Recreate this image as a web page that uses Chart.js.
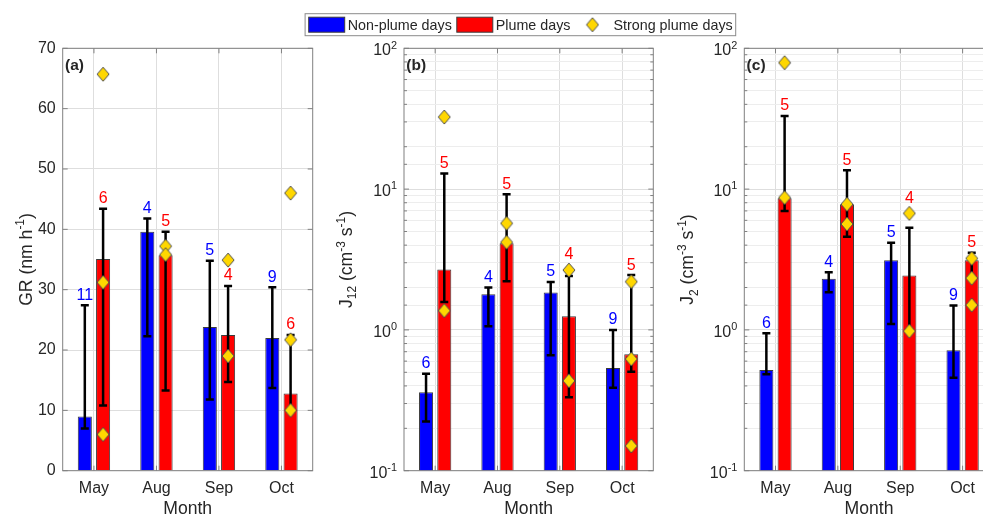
<!DOCTYPE html>
<html>
<head>
<meta charset="utf-8">
<title>GR, J12 and J2 by month</title>
<script src="https://cdn.jsdelivr.net/npm/chart.js@4.4.1/dist/chart.umd.min.js"></script>
<style>
  html, body { margin: 0; padding: 0; overflow: hidden; background: #fff; }
  body { position: relative; width: 983px; height: 517px; }
  canvas { position: absolute; top: 0; }
</style>
</head>
<body>
<canvas id="panelA"></canvas>
<canvas id="panelB"></canvas>
<canvas id="panelC"></canvas>
<script>
const months = ['May', 'Aug', 'Sep', 'Oct'];
const seriesNames = ['Non-plume days', 'Plume days', 'Strong plume days'];

// (a) GR, nm h-1
const grNonPlume   = [9.0, 39.6, 23.8, 22.0];
const grNonPlumeLo = [7.0, 22.3, 11.8, 13.7];
const grNonPlumeHi = [27.4, 41.8, 34.8, 30.4];
const grPlume      = [35.1, 35.7, 22.5, 12.8];
const grPlumeLo    = [10.8, 13.3, 14.7, 9.8];
const grPlumeHi    = [43.4, 39.6, 30.6, 22.5];
const grStrong     = [[65.7, 31.2, 6.0], [37.2, 35.8], [34.9, 19.0], [46.0, 21.7, 10.0]];
const grCountNon   = [11, 4, 5, 9];
const grCountPlume = [6, 5, 4, 6];
const grTicks      = [0, 10, 20, 30, 40, 50, 60, 70];

// (b) J12, cm-3 s-1
const j12NonPlume   = [0.36, 1.79, 1.84, 0.536];
const j12NonPlumeLo = [0.224, 1.06, 0.66, 0.388];
const j12NonPlumeHi = [0.489, 2.0, 2.19, 1.0];
const j12Plume      = [2.69, 4.12, 1.25, 0.671];
const j12PlumeLo    = [1.58, 2.22, 0.332, 0.505];
const j12PlumeHi    = [12.9, 9.19, 2.41, 2.45];
const j12Strong     = [[32.5, 1.37], [5.71, 4.19], [2.66, 0.435], [2.20, 0.621, 0.150]];
const j12CountNon   = [6, 4, 5, 9];
const j12CountPlume = [5, 5, 4, 5];

// (c) J2, cm-3 s-1
const j2NonPlume   = [0.519, 2.31, 3.12, 0.716];
const j2NonPlumeLo = [0.484, 1.85, 1.10, 0.458];
const j2NonPlumeHi = [0.946, 2.57, 4.16, 1.49];
const j2Plume      = [8.6, 7.8, 2.43, 3.13];
const j2PlumeLo    = [6.99, 4.59, 1.0, 2.35];
const j2PlumeHi    = [33.0, 13.6, 5.32, 3.53];
const j2Strong     = [[79, 8.69], [7.8, 5.65], [6.73, 0.98], [3.22, 2.33, 1.50]];
const j2CountNon   = [6, 4, 5, 9];
const j2CountPlume = [5, 5, 4, 5];

// log axis labels
const logDecades   = [0.1, 1, 10, 100];
const logExponents = ['-1', '0', '1', '2'];

const H = 517, PLOT_TOP = 48.3, PLOT_BOTTOM = 470.7;
const BLUE = '#0000ff', RED = '#ff0000', EDGE = '#3c3c3c';
const INK = '#262626', AXIS = '#808080', GRID = '#dedede', GRID_MINOR = '#ededed';
const FONT = "'Liberation Sans', Arial, Helvetica, sans-serif";
const BAR_CAT = 0.585, BAR_PCT = 0.77;
const CAP = 4;

Chart.defaults.font.family = FONT;
Chart.defaults.color = INK;

// MATLAB-like 'd' marker, a bit taller than wide
const diamond = (() => {
  const c = document.createElement('canvas');
  c.width = 14; c.height = 16;
  const g = c.getContext('2d');
  g.beginPath();
  g.moveTo(7, 1); g.lineTo(13, 8); g.lineTo(7, 15); g.lineTo(1, 8); g.closePath();
  g.fillStyle = '#ffd700'; g.fill();
  g.strokeStyle = '#4d4d4d'; g.lineWidth = 1; g.stroke();
  return c;
})();

function isDecade(v) {
  const e = Math.log10(v);
  return Math.abs(e - Math.round(e)) < 1e-6;
}

// text with TeX-like super/subscripts: parts = [[text, ''|'sup'|'sub'], ...]
function drawRich(ctx, parts, x, y, size, align) {
  const small = size * 0.68;
  const pieces = parts.map(([t, k]) => {
    ctx.font = `${k ? small : size}px ${FONT}`;
    return { t, k, w: ctx.measureText(t).width };
  });
  const total = pieces.reduce((s, q) => s + q.w, 0);
  let cx = align === 'center' ? x - total / 2 : align === 'right' ? x - total : x;
  ctx.textAlign = 'left';
  ctx.textBaseline = 'alphabetic';
  pieces.forEach(q => {
    ctx.font = `${q.k ? small : size}px ${FONT}`;
    const dy = q.k === 'sup' ? -size * 0.42 : q.k === 'sub' ? size * 0.24 : 0;
    ctx.fillText(q.t, cx, y + dy);
    cx += q.w;
  });
}

function drawErrorBars(chart, dsIndex, lo, hi) {
  const ctx = chart.ctx, y = chart.scales.y;
  ctx.save();
  ctx.strokeStyle = '#000';
  ctx.lineWidth = 2.5;
  ctx.beginPath();
  chart.getDatasetMeta(dsIndex).data.forEach((bar, i) => {
    const top = y.getPixelForValue(hi[i]), bot = y.getPixelForValue(lo[i]);
    ctx.moveTo(bar.x, top); ctx.lineTo(bar.x, bot);
    ctx.moveTo(bar.x - CAP, top); ctx.lineTo(bar.x + CAP, top);
    ctx.moveTo(bar.x - CAP, bot); ctx.lineTo(bar.x + CAP, bot);
  });
  ctx.stroke();
  ctx.restore();
}

// strong plume days sit on the plume-day bar of each month
function drawDiamonds(chart, dsIndex, strong) {
  const ctx = chart.ctx, y = chart.scales.y;
  chart.getDatasetMeta(dsIndex).data.forEach((bar, i) => {
    strong[i].forEach(v => {
      ctx.drawImage(diamond, bar.x - diamond.width / 2, y.getPixelForValue(v) - diamond.height / 2);
    });
  });
}

function drawCounts(chart, dsIndex, hi, counts, colour, strong) {
  const ctx = chart.ctx, y = chart.scales.y;
  ctx.font = `16px ${FONT}`;
  ctx.textAlign = 'center';
  ctx.textBaseline = 'middle';
  ctx.fillStyle = colour;
  chart.getDatasetMeta(dsIndex).data.forEach((bar, i) => {
    let anchor = y.getPixelForValue(hi[i]);
    if (strong) {
      // lift the number over a diamond sitting just above the cap
      const near = strong[i].map(v => y.getPixelForValue(v)).filter(py => py < anchor && anchor - py < 20);
      if (near.length) anchor = Math.min(...near) - 5;
    }
    ctx.fillText(String(counts[i]), bar.x, anchor - 10);
  });
}

function drawLegend(chart, originX) {
  const ctx = chart.ctx;
  const size = 14.3, SW = 36, SH = 15;
  ctx.font = `${size}px ${FONT}`;
  const widths = seriesNames.map(l => ctx.measureText(l).width);
  const total = 3.6 + SW * 3 + 3 * 3 + widths[0] + widths[1] + widths[2] + 5 + 4 + 3;
  const left = 520.4 - total / 2 - originX, top = 13.7, h = 22;
  ctx.fillStyle = '#fff';
  ctx.fillRect(left, top, total, h);
  ctx.strokeStyle = '#8a8a8a';
  ctx.lineWidth = 1;
  ctx.strokeRect(left, top, total, h);

  let cx = left + 3.6;
  const sy = top + (h - SH) / 2;
  ctx.textAlign = 'left';
  ctx.textBaseline = 'alphabetic';
  [BLUE, RED].forEach((c, i) => {
    ctx.fillStyle = c;
    ctx.fillRect(cx, sy, SW, SH);
    ctx.strokeStyle = EDGE;
    ctx.strokeRect(cx, sy, SW, SH);
    cx += SW + 3;
    ctx.fillStyle = INK;
    ctx.fillText(seriesNames[i], cx, top + h / 2 + 5);
    cx += widths[i] + (i === 0 ? 5 : 4);
  });
  ctx.drawImage(diamond, cx + SW / 2 - diamond.width / 2, top + h / 2 - diamond.height / 2);
  cx += SW + 3;
  ctx.fillStyle = INK;
  ctx.fillText(seriesNames[2], cx, top + h / 2 + 5);
}

function makePanel(p) {
  const canvas = document.getElementById(p.id);
  canvas.width = p.width;
  canvas.height = H;
  canvas.style.left = p.left + 'px';
  const yAxisW = p.plotLeft - p.left;
  const padRight = p.left + p.width - p.plotRight;

  const panelPlugin = {
    id: 'panel' + p.letter,
    afterDatasetsDraw(chart) {
      drawErrorBars(chart, 0, p.blueLo, p.blueHi);
      drawErrorBars(chart, 1, p.redLo, p.redHi);
      drawDiamonds(chart, 1, p.strong);
    },
    afterDraw(chart) {
      const ctx = chart.ctx, a = chart.chartArea, x = chart.scales.x, y = chart.scales.y;
      ctx.save();
      drawCounts(chart, 0, p.blueHi, p.nBlue, BLUE, null);
      drawCounts(chart, 1, p.redHi, p.nRed, RED, p.strong);

      // box and inward ticks
      ctx.strokeStyle = AXIS;
      ctx.lineWidth = 1;
      ctx.strokeRect(a.left, a.top, a.right - a.left, a.bottom - a.top);
      ctx.beginPath();
      y.ticks.forEach(t => {
        const py = y.getPixelForValue(t.value);
        const len = (!p.log || isDecade(t.value)) ? 5 : 3;
        ctx.moveTo(a.left, py); ctx.lineTo(a.left + len, py);
        ctx.moveTo(a.right, py); ctx.lineTo(a.right - len, py);
      });
      x.ticks.forEach((t, i) => {
        const px = x.getPixelForTick(i);
        ctx.moveTo(px, a.top); ctx.lineTo(px, a.top + 5);
        ctx.moveTo(px, a.bottom); ctx.lineTo(px, a.bottom - 5);
      });
      ctx.stroke();

      ctx.fillStyle = INK;
      if (p.log) {
        logDecades.forEach((v, i) => {
          drawRich(ctx, [['10', ''], [logExponents[i], 'sup']], a.left - 7, y.getPixelForValue(v) + 7, 16, 'right');
        });
      }

      ctx.font = `bold 15.5px ${FONT}`;
      ctx.textAlign = 'left';
      ctx.textBaseline = 'alphabetic';
      ctx.fillText('(' + p.letter + ')', a.left + 2.3, 70);

      if (p.legend) drawLegend(chart, p.left);

      ctx.translate(a.left - p.titleGap, (a.top + a.bottom) / 2);
      ctx.rotate(-Math.PI / 2);
      ctx.fillStyle = INK;
      drawRich(ctx, p.title, 0, 0, 17.6, 'center');
      ctx.restore();
    }
  };

  const yScale = p.log ? {
    type: 'logarithmic', min: 0.1, max: 100,
    grid: { drawTicks: false, color: c => isDecade(c.tick.value) ? GRID : GRID_MINOR },
    border: { display: false },
    ticks: { autoSkip: false, callback: () => '' },
    afterFit: s => { s.width = yAxisW; }
  } : {
    type: 'linear', min: grTicks[0], max: grTicks[grTicks.length - 1],
    afterBuildTicks: s => { s.ticks = grTicks.map(v => ({ value: v })); },
    grid: { drawTicks: false, color: GRID },
    border: { display: false },
    ticks: { color: INK, font: { size: 16 }, padding: 7 },
    afterFit: s => { s.width = yAxisW; }
  };

  return new Chart(canvas.getContext('2d'), {
    type: 'bar',
    data: {
      labels: months,
      datasets: [
        { label: seriesNames[0], data: p.blue, backgroundColor: BLUE, borderColor: EDGE, borderWidth: 1 },
        { label: seriesNames[1], data: p.red, backgroundColor: RED, borderColor: EDGE, borderWidth: 1 }
      ]
    },
    options: {
      responsive: false,
      animation: false,
      devicePixelRatio: 1,
      categoryPercentage: BAR_CAT,
      barPercentage: BAR_PCT,
      layout: { padding: { top: PLOT_TOP, right: padRight, left: 0, bottom: 0 } },
      plugins: { legend: { display: false }, tooltip: { enabled: false } },
      scales: {
        x: {
          type: 'category', offset: true,
          grid: { offset: false, drawTicks: false, color: GRID },
          border: { display: false },
          ticks: { color: INK, font: { size: 16 }, padding: 8 },
          title: { display: true, text: 'Month', color: INK, font: { size: 17.6 }, padding: { top: 0, bottom: -3 } },
          afterFit: s => { s.height = H - PLOT_BOTTOM; }
        },
        y: yScale
      }
    },
    plugins: [panelPlugin]
  });
}

makePanel({
  id: 'panelA', letter: 'a', left: 0, width: 330, plotLeft: 62.7, plotRight: 312.7, titleGap: 31,
  log: false, title: [['GR (nm h', ''], ['-1', 'sup'], [')', '']],
  blue: grNonPlume, blueLo: grNonPlumeLo, blueHi: grNonPlumeHi,
  red: grPlume, redLo: grPlumeLo, redHi: grPlumeHi,
  strong: grStrong, nBlue: grCountNon, nRed: grCountPlume
});

makePanel({
  id: 'panelB', letter: 'b', left: 295, width: 450, plotLeft: 404, plotRight: 653.3, titleGap: 52,
  log: true, legend: true,
  title: [['J', ''], ['12', 'sub'], [' (cm', ''], ['-3', 'sup'], [' s', ''], ['-1', 'sup'], [')', '']],
  blue: j12NonPlume, blueLo: j12NonPlumeLo, blueHi: j12NonPlumeHi,
  red: j12Plume, redLo: j12PlumeLo, redHi: j12PlumeHi,
  strong: j12Strong, nBlue: j12CountNon, nRed: j12CountPlume
});

makePanel({
  id: 'panelC', letter: 'c', left: 660, width: 340, plotLeft: 744.3, plotRight: 993.8, titleGap: 51,
  log: true,
  title: [['J', ''], ['2', 'sub'], [' (cm', ''], ['-3', 'sup'], [' s', ''], ['-1', 'sup'], [')', '']],
  blue: j2NonPlume, blueLo: j2NonPlumeLo, blueHi: j2NonPlumeHi,
  red: j2Plume, redLo: j2PlumeLo, redHi: j2PlumeHi,
  strong: j2Strong, nBlue: j2CountNon, nRed: j2CountPlume
});
</script>
</body>
</html>
